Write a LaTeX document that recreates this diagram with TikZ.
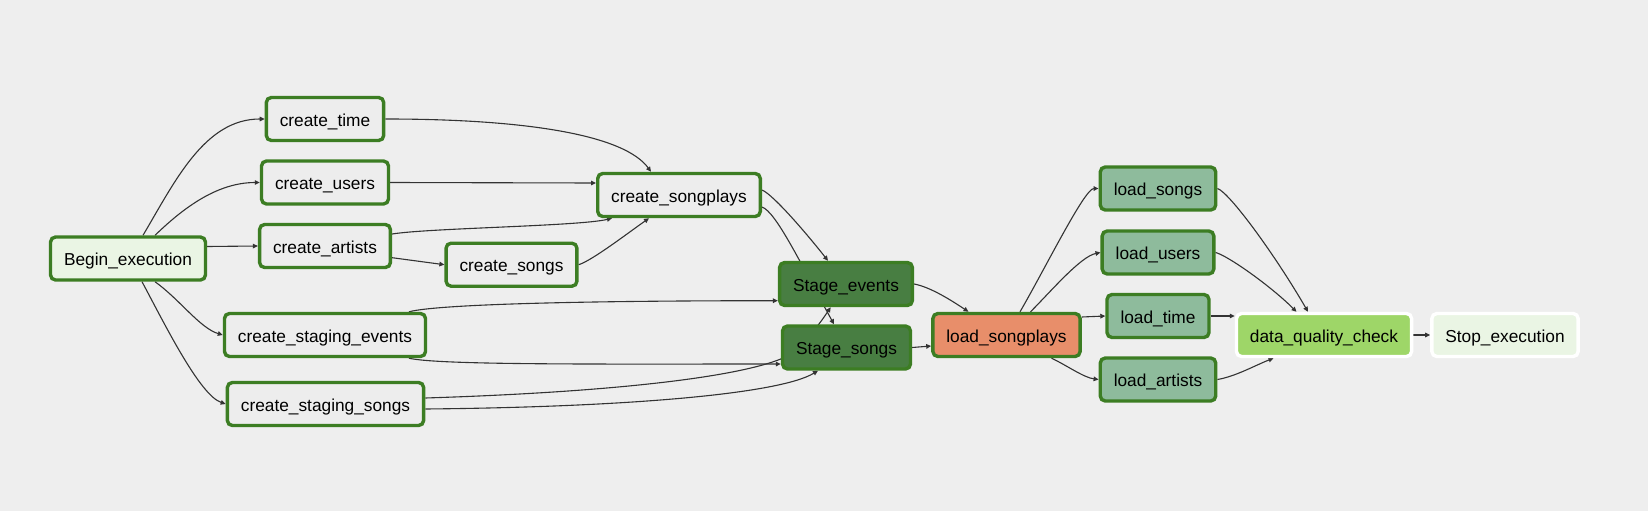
\documentclass[tikz,border=0pt]{standalone}
\usepackage{fontspec}
\setmainfont{Liberation Sans}
\usetikzlibrary{calc,arrows.meta}
\pgfdeclarelayer{bg}
\pgfdeclarelayer{edges}
\pgfsetlayers{bg,edges,main}
\definecolor{bgc}{HTML}{EEEEEE}
\definecolor{okgreen}{HTML}{3C7D23}
\definecolor{dummyc}{HTML}{EAF5E4}
\definecolor{pgc}{HTML}{EDEDED}
\definecolor{stagec}{HTML}{487E42}
\definecolor{factc}{HTML}{E88E6A}
\definecolor{dimc}{HTML}{8EBB9C}
\definecolor{dqcc}{HTML}{9ED668}
\definecolor{edgec}{HTML}{333333}
\begin{document}
\begin{tikzpicture}[x=1pt,y=-1pt,
  task/.style={draw=okgreen, line width=3.4pt, rounded corners=5pt, minimum height=43pt,
    inner xsep=13.5pt, inner ysep=0pt, text height=14pt, text depth=0pt,
    font=\fontsize{17.3}{20}\selectfont, text=black},
  pending/.style={task, draw=white},
  edge/.style={draw=edgec, line width=1.1pt, -{Triangle[length=5pt,width=4.6pt]}},
]
\begin{pgfonlayer}{bg}
\path[fill=bgc] (0,0) rectangle (1648,511);
\end{pgfonlayer}

% nodes
\node[task, fill=dummyc] (begin) at (128,258.5) {Begin\_execution};
\node[task, fill=pgc] (ctime) at (325,119) {create\_time};
\node[task, fill=pgc] (cusers) at (325,182.5) {create\_users};
\node[task, fill=pgc] (cartists) at (325,246) {create\_artists};
\node[task, fill=pgc] (cstev) at (325,335) {create\_staging\_events};
\node[task, fill=pgc] (cstso) at (325.5,404) {create\_staging\_songs};
\node[task, fill=pgc] (csongs) at (511.5,264.7) {create\_songs};
\node[task, fill=pgc] (csp) at (679,195) {create\_songplays};
\node[task, fill=stagec] (sev) at (846,284) {Stage\_events};
\node[task, fill=stagec] (sso) at (846.5,347.5) {Stage\_songs};
\node[task, fill=factc] (lsp) at (1006.5,335) {load\_songplays};
\node[task, fill=dimc] (lsongs) at (1158,188.5) {load\_songs};
\node[task, fill=dimc] (lusers) at (1158,252.5) {load\_users};
\node[task, fill=dimc] (ltime) at (1158,316) {load\_time};
\node[task, fill=dimc] (lartists) at (1158,379.5) {load\_artists};
\node[pending, fill=dqcc] (dqc) at (1324,335) {data\_quality\_check};
\node[pending, fill=dummyc] (stop) at (1505,335) {Stop\_execution};

\begin{pgfonlayer}{edges}
% from Begin_execution
\draw[edge] ($(begin.north)+(15,0)$) .. controls +(32,-54) and +(-60,0) .. (ctime.west);
\draw[edge] ($(begin.north)+(27,0)$) .. controls +(25,-24) and +(-45,0) .. (cusers.west);
\draw[edge] ($(begin.east)+(0,-12)$) -- (cartists.west);
\draw[edge] ($(begin.south)+(27,0)$) .. controls +(25,18) and +(-23,-7) .. (cstev.west);
\draw[edge] ($(begin.south)+(14,0)$) .. controls +(23,43) and +(-26,-9) .. (cstso.west);
% into create_songplays
\draw[edge] (ctime.east) .. controls +(145,0) and +(-26,-36) .. ($(csp.north)+(-28,0)$);
\draw[edge] (cusers.east) -- ($(csp.west)+(0,-12)$);
\draw[edge] ($(cartists.east)+(0,-12)$) .. controls +(37,-6) and +(-32,8) .. ($(csp.south)+(-67,0)$);
\draw[edge] ($(cartists.east)+(0,11.7)$) -- (csongs.west);
\draw[edge] (csongs.east) .. controls +(13,-4) and +(-24,17) .. ($(csp.south)+(-30,0)$);
% into staging
\draw[edge] ($(csp.east)+(0,-5)$) .. controls +(12,5) and +(-18,-23) .. ($(sev.north)+(-18,0)$);
\draw[edge] ($(csp.east)+(0,12)$) .. controls +(14,5) and +(-34,-62) .. ($(sso.north)+(-12.5,0)$);
\draw[edge] ($(cstev.north)+(84,0)$) .. controls +(30,-8) and +(-180,0) .. ($(sev.west)+(0,16.7)$);
\draw[edge] ($(cstev.south)+(84,0)$) .. controls +(30,7) and +(-180,0) .. ($(sso.west)+(0,16.5)$);
\draw[edge] ($(cstso.east)+(0,-6)$) .. controls +(190,-6) and +(-45,18) .. ($(sso.west)+(0,11.5)$)
  .. controls +(25,-15) and +(-10,15) .. ($(sev.south)+(-15.3,0)$);
\draw[edge] ($(cstso.east)+(0,5)$) .. controls +(205,-2) and +(-38,23) .. ($(sso.south)+(-28.5,0)$);
% into load_songplays
\draw[edge] (sev.east) .. controls +(16,3) and +(-18,-12) .. ($(lsp.north)+(-38,0)$);
\draw[edge] (sso.east) -- ($(lsp.west)+(0,11)$);
% dimensions
\draw[edge] ($(lsp.north)+(13.5,0)$) .. controls +(25,-43) and +(-14,0) .. (lsongs.west);
\draw[edge] ($(lsp.north)+(24,0)$) .. controls +(20,-20) and +(-20,4) .. (lusers.west);
\draw[edge] ($(lsp.east)+(0,-18)$) -- (ltime.west);
\draw[edge] ($(lsp.south)+(45,0)$) .. controls +(15,7) and +(-15,-2) .. (lartists.west);
% quality check
\draw[edge] (lsongs.east) .. controls +(12,4) and +(-33,-57) .. ($(dqc.north)+(-16,0)$);
\draw[edge] (lusers.east) .. controls +(12,3) and +(-26,-26) .. ($(dqc.north)+(-27.5,0)$);
\draw[edge] (ltime.east) -- ($(dqc.west)+(0,-19)$);
\draw[edge] (lartists.east) .. controls +(18,-3) and +(-18,7) .. ($(dqc.south)+(-50.5,0)$);
\draw[edge] (dqc.east) -- (stop.west);
\end{pgfonlayer}
\end{tikzpicture}
\end{document}
